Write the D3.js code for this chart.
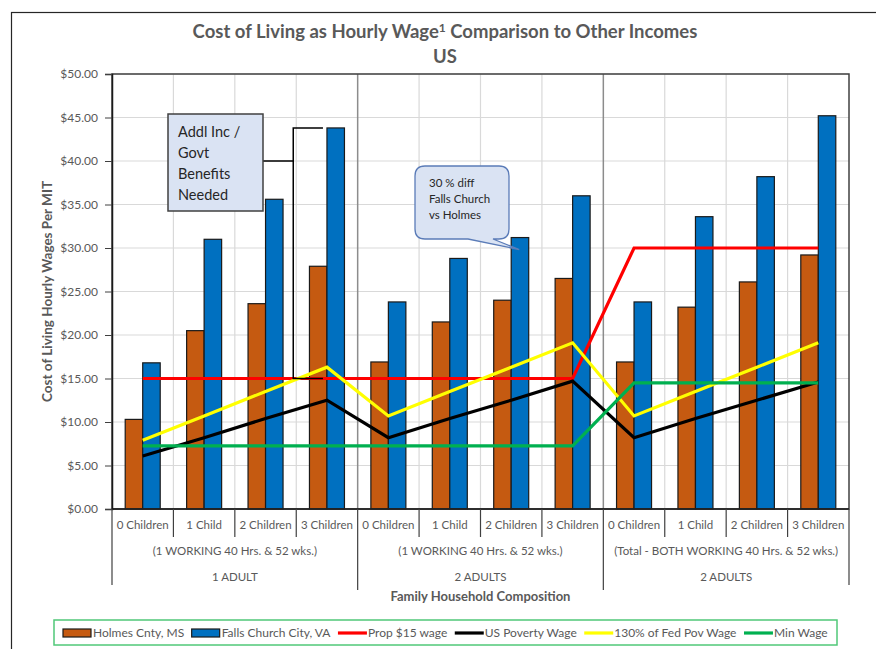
<!DOCTYPE html>
<html>
<head>
<meta charset="utf-8">
<script src="https://cdn.jsdelivr.net/npm/d3@7"></script>
<style>
  body { margin: 0; background: #fff; }
  text { font-family: Lato, "Open Sans", sans-serif; }
</style>
</head>
<body>
<div id="chart"></div>
<script>
// data
const categories = ['0 Children', '1 Child', '2 Children', '3 Children',
                    '0 Children', '1 Child', '2 Children', '3 Children',
                    '0 Children', '1 Child', '2 Children', '3 Children']
const subgroups = ['(1 WORKING 40 Hrs. & 52 wks.)', '(1 WORKING 40 Hrs. & 52 wks.)', '(Total - BOTH WORKING 40 Hrs. & 52 wks.)']
const groups = ['1 ADULT', '2 ADULTS', '2 ADULTS']

const holmes      = [10.3, 20.5, 23.6, 27.9, 16.9, 21.5, 24.0, 26.5, 16.9, 23.2, 26.1, 29.2]
const fallsChurch = [16.8, 31.0, 35.6, 43.8, 23.8, 28.8, 31.2, 36.0, 23.8, 33.6, 38.2, 45.2]
const prop15      = [15, 15, 15, 15, 15, 15, 15, 15, 30, 30, 30, 30]
const poverty     = [6.1, 8.2, 10.4, 12.5, 8.2, 10.4, 12.5, 14.7, 8.2, 10.4, 12.5, 14.6]
const pov130      = [7.9, 10.7, 13.5, 16.3, 10.7, 13.5, 16.3, 19.1, 10.7, 13.5, 16.3, 19.1]
const minWage     = [7.25, 7.25, 7.25, 7.25, 7.25, 7.25, 7.25, 7.25, 14.5, 14.5, 14.5, 14.5]

const yTicks = [0, 5, 10, 15, 20, 25, 30, 35, 40, 45, 50]

const legendItems = [
  {label: 'Holmes Cnty, MS', type: 'bar', color: '#c55a11'},
  {label: 'Falls Church City, VA', type: 'bar', color: '#0070c0'},
  {label: 'Prop $15 wage', type: 'line', color: '#ff0000'},
  {label: 'US Poverty Wage', type: 'line', color: '#000000'},
  {label: '130% of Fed Pov Wage', type: 'line', color: '#ffff00'},
  {label: 'Min Wage', type: 'line', color: '#00b050'}
]

const W = 876, H = 649
const p = {left: 112, right: 849, top: 74, bottom: 509}
const gray = '#595959'

const svg = d3.select('#chart')
    .append('svg')
    .attr('width', W)
    .attr('height', H)

// outer frame
svg.append('rect')
    .attr('x', 11.5).attr('y', 12.5)
    .attr('width', 1000).attr('height', 1000)
    .attr('fill', 'none')
    .attr('stroke', '#262626')
    .attr('stroke-width', 1.2)

// Scales
const x = d3.scaleBand()
    .domain(d3.range(categories.length))
    .range([p.left, p.right])
    .padding(0)

const y = d3.scaleLinear()
    .domain([0, 50])
    .range([p.bottom, p.top])

const bw = x.bandwidth()
const barW = 17.5
const cx = i => x(i) + bw / 2

// Gridlines
svg.append('g')
    .selectAll('line')
    .data(yTicks)
    .join('line')
    .attr('x1', p.left).attr('x2', p.right)
    .attr('y1', d => y(d)).attr('y2', d => y(d))
    .attr('stroke', '#d9d9d9')
    .attr('stroke-width', 1.2)

svg.append('g')
    .selectAll('line')
    .data(d3.range(1, categories.length))
    .join('line')
    .attr('x1', d => x(d)).attr('x2', d => x(d))
    .attr('y1', p.top).attr('y2', p.bottom)
    .attr('stroke', d => d % 4 === 0 ? '#8c8c8c' : '#d9d9d9')
    .attr('stroke-width', d => d % 4 === 0 ? 1.5 : 1.2)

// Bars
svg.append('g')
    .selectAll('rect')
    .data(holmes)
    .join('rect')
    .attr('x', (d, i) => cx(i) - barW)
    .attr('y', d => y(d))
    .attr('width', barW)
    .attr('height', d => p.bottom - y(d))
    .attr('fill', '#c55a11')
    .attr('stroke', '#1a1a1a')
    .attr('stroke-width', 1.2)

svg.append('g')
    .selectAll('rect')
    .data(fallsChurch)
    .join('rect')
    .attr('x', (d, i) => cx(i))
    .attr('y', d => y(d))
    .attr('width', barW)
    .attr('height', d => p.bottom - y(d))
    .attr('fill', '#0070c0')
    .attr('stroke', '#1a1a1a')
    .attr('stroke-width', 1.2)

// Lines
const line = d3.line()
    .x((d, i) => cx(i))
    .y(d => y(d))

const series = [
  {values: prop15, color: '#ff0000'},
  {values: poverty, color: '#000000'},
  {values: pov130, color: '#ffff00'},
  {values: minWage, color: '#00b050'}
]

svg.append('g')
    .selectAll('path')
    .data(series)
    .join('path')
    .attr('d', d => line(d.values))
    .attr('fill', 'none')
    .attr('stroke', d => d.color)
    .attr('stroke-width', 3.2)
    .attr('stroke-linejoin', 'miter')

// Plot border
svg.append('rect')
    .attr('x', p.left).attr('y', p.top)
    .attr('width', p.right - p.left).attr('height', p.bottom - p.top)
    .attr('fill', 'none')
    .attr('stroke', '#404040')
    .attr('stroke-width', 1.5)

svg.append('line')
    .attr('x1', p.left).attr('x2', p.right)
    .attr('y1', p.bottom).attr('y2', p.bottom)
    .attr('stroke', '#1a1a1a')
    .attr('stroke-width', 1.5)

// Y axis
const yAxis = d3.axisLeft(y)
    .tickValues(yTicks)
    .tickFormat(d3.format('$.2f'))
    .tickSize(7)
    .tickPadding(7)

const yAxisCall = svg.append('g')
    .attr('transform', `translate(${p.left}, 0)`)
    .call(yAxis)
yAxisCall.select('.domain').attr('stroke', '#1a1a1a').attr('stroke-width', 1.5)
yAxisCall.selectAll('.tick line').attr('stroke', '#404040')
yAxisCall.selectAll('.tick text')
    .attr('fill', gray)
    .attr('font-size', '12px')
    .style('font-family', 'Lato, sans-serif')

svg.append('text')
    .attr('transform', `translate(52, ${(p.top + p.bottom) / 2}) rotate(-90)`)
    .attr('text-anchor', 'middle')
    .attr('font-size', '13.5px')
    .attr('font-weight', 'bold')
    .attr('fill', gray)
    .text('Cost of Living Hourly Wages Per  MIT')

// X axis - multi level
const xg = svg.append('g')

xg.selectAll('line.cat')
    .data(d3.range(1, categories.length).filter(d => d % 4 !== 0))
    .join('line')
    .attr('class', 'cat')
    .attr('x1', d => x(d)).attr('x2', d => x(d))
    .attr('y1', p.bottom).attr('y2', 537)
    .attr('stroke', '#404040')
    .attr('stroke-width', 1.2)

xg.selectAll('line.grp')
    .data(d3.range(0, categories.length + 1, 4))
    .join('line')
    .attr('class', 'grp')
    .attr('x1', d => d === categories.length ? p.right : x(d))
    .attr('x2', d => d === categories.length ? p.right : x(d))
    .attr('y1', p.bottom)
    .attr('y2', d => (d === 0 || d === categories.length) ? 585 : 590)
    .attr('stroke', '#404040')
    .attr('stroke-width', 1.2)

xg.selectAll('text.cat')
    .data(categories)
    .join('text')
    .attr('class', 'cat')
    .attr('x', (d, i) => cx(i))
    .attr('y', 529)
    .attr('text-anchor', 'middle')
    .attr('font-size', '11.5px')
    .attr('fill', gray)
    .text(d => d)

xg.selectAll('text.sub')
    .data(subgroups)
    .join('text')
    .attr('class', 'sub')
    .attr('x', (d, i) => (x(i * 4) + x(i * 4 + 3) + bw) / 2)
    .attr('y', 555)
    .attr('text-anchor', 'middle')
    .attr('font-size', '11.5px')
    .attr('fill', gray)
    .text(d => d)

xg.selectAll('text.grp')
    .data(groups)
    .join('text')
    .attr('class', 'grp')
    .attr('x', (d, i) => (x(i * 4) + x(i * 4 + 3) + bw) / 2)
    .attr('y', 581)
    .attr('text-anchor', 'middle')
    .attr('font-size', '11.5px')
    .attr('fill', gray)
    .text(d => d)

svg.append('text')
    .attr('x', (p.left + p.right) / 2)
    .attr('y', 601)
    .attr('text-anchor', 'middle')
    .attr('font-size', '13px')
    .attr('font-weight', 'bold')
    .attr('fill', gray)
    .text('Family Household Composition')

// Title
const title = svg.append('text')
    .attr('x', 445)
    .attr('y', 38)
    .attr('text-anchor', 'middle')
    .attr('font-size', '18.5px')
    .attr('font-weight', 'bold')
    .attr('fill', gray)
title.append('tspan').text('Cost of Living as Hourly Wage')
title.append('tspan').attr('font-size', '12px').attr('dy', -6).text('1')
title.append('tspan').attr('dy', 6).text(' Comparison to Other Incomes')

svg.append('text')
    .attr('x', 445)
    .attr('y', 63)
    .attr('text-anchor', 'middle')
    .attr('font-size', '18.5px')
    .attr('font-weight', 'bold')
    .attr('fill', gray)
    .text('US')

// Annotation: bracket + box
const bx = x(3) - 3
const bEnd = cx(3) - 4
svg.append('path')
    .attr('d', `M${bEnd},${y(fallsChurch[3])} H${bx} V${y(prop15[3])} H${bEnd}`)
    .attr('fill', 'none')
    .attr('stroke', '#000')
    .attr('stroke-width', 1.5)
svg.append('line')
    .attr('x1', 263).attr('x2', bx)
    .attr('y1', y(40)).attr('y2', y(40))
    .attr('stroke', '#000')
    .attr('stroke-width', 1.5)

svg.append('rect')
    .attr('x', 168).attr('y', 114)
    .attr('width', 95).attr('height', 97)
    .attr('fill', '#dae3f3')
    .attr('stroke', '#404040')
    .attr('stroke-width', 1.5)

svg.append('text')
    .attr('x', 178)
    .attr('y', 137)
    .attr('font-size', '14.5px')
    .attr('fill', '#262626')
    .selectAll('tspan')
    .data(['Addl Inc /', 'Govt', 'Benefits', 'Needed'])
    .join('tspan')
    .attr('x', 178)
    .attr('dy', (d, i) => i ? 21 : 0)
    .text(d => d)

// Callout bubble
const tipX = cx(6) + 8, tipY = y(fallsChurch[6]) + 12
const bl = 415, bt = 166, br = 509, bb = 239, r = 10
svg.append('path')
    .attr('d', `M${bl + r},${bt} H${br - r} Q${br},${bt} ${br},${bt + r} V${bb - r} Q${br},${bb} ${br - r},${bb}
      H493 L${tipX},${tipY} L468,${bb} H${bl + r} Q${bl},${bb} ${bl},${bb - r} V${bt + r} Q${bl},${bt} ${bl + r},${bt} Z`)
    .attr('fill', '#dae3f3')
    .attr('stroke', '#5b7cb8')
    .attr('stroke-width', 1.3)

svg.append('text')
    .attr('font-size', '11.5px')
    .attr('fill', '#262626')
    .selectAll('tspan')
    .data(['30 % diff', 'Falls Church', 'vs Holmes'])
    .join('tspan')
    .attr('x', 429)
    .attr('y', (d, i) => 187 + i * 16)
    .text(d => d)

// Legend
const lg = svg.append('g')
lg.append('rect')
    .attr('x', 54).attr('y', 620)
    .attr('width', 783).attr('height', 25)
    .attr('fill', '#fff')
    .attr('stroke', '#50c878')
    .attr('stroke-width', 1.5)

let lx = 63
legendItems.forEach(item => {
  if (item.type === 'bar') {
    lg.append('rect')
        .attr('x', lx).attr('y', 629)
        .attr('width', 28).attr('height', 8)
        .attr('fill', item.color)
        .attr('stroke', '#1a1a1a')
        .attr('stroke-width', 1.2)
  } else {
    lg.append('line')
        .attr('x1', lx).attr('x2', lx + 29)
        .attr('y1', 633).attr('y2', 633)
        .attr('stroke', item.color)
        .attr('stroke-width', 3.2)
  }
  const t = lg.append('text')
      .attr('x', lx + 30)
      .attr('y', 637)
      .attr('font-size', '12px')
      .attr('fill', gray)
      .text(item.label)
  lx += 30 + t.node().getComputedTextLength() + 7.5
})
</script>
</body>
</html>
